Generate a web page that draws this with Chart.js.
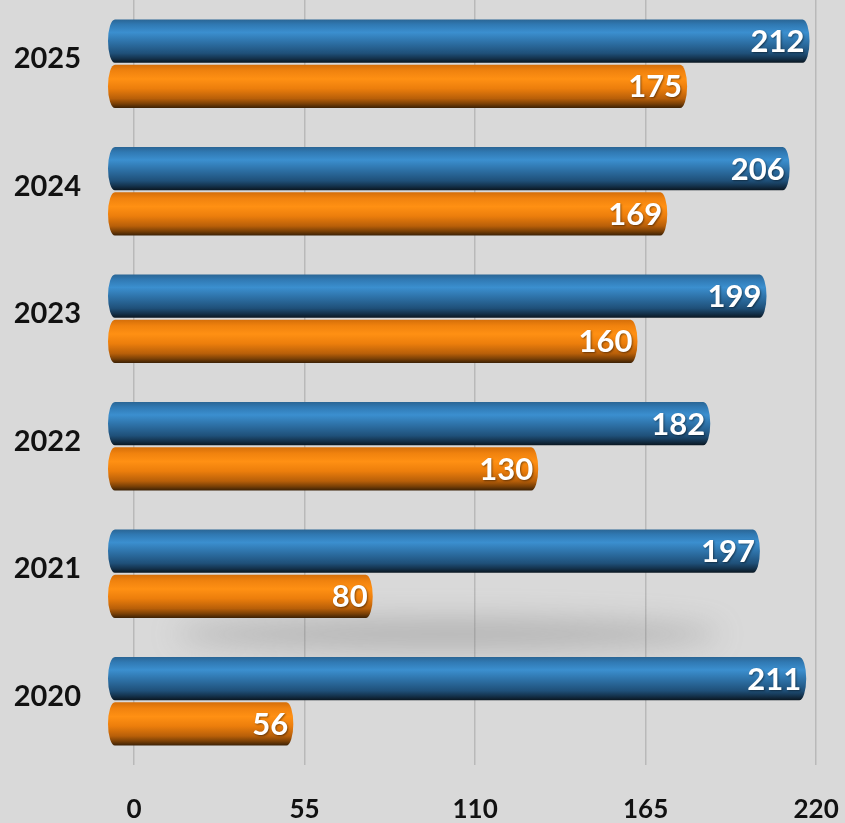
<!DOCTYPE html>
<html>
<head>
<meta charset="utf-8">
<script src="https://cdn.jsdelivr.net/npm/chart.js@4.4.1/dist/chart.umd.min.js"></script>
<style>
  html, body { margin: 0; padding: 0; background: #d9d9d9; }
  #wrap { width: 845px; height: 823px; }
</style>
</head>
<body>
<div id="wrap"><canvas id="barChart" width="845" height="823"></canvas></div>
<script>
var years = ['2025', '2024', '2023', '2022', '2021', '2020'];
var blueValues = [212, 206, 199, 182, 197, 211];
var orangeValues = [175, 169, 160, 130, 80, 56];
var tickValues = [0, 55, 110, 165, 220];

var fontName = "Lato, 'DejaVu Sans', sans-serif";

function cylinderGradient(ctx, top, bottom, stops) {
    var g = ctx.createLinearGradient(0, top, 0, bottom);
    stops.forEach(function (s) { g.addColorStop(s[0], s[1]); });
    return g;
}

var blueStops = [[0, '#2a6594'], [0.12, '#3079b3'], [0.3, '#3b8fcf'], [0.52, '#2e72a8'], [0.78, '#1f5079'], [0.9, '#14324c'], [1, '#0a1620']];
var orangeStops = [[0, '#d46e09'], [0.14, '#f0820e'], [0.33, '#ff9013'], [0.55, '#ec7e0c'], [0.78, '#b85f09'], [0.9, '#7a4006'], [1, '#3a2005']];

// draws the bars as cylinders, positions come from the bar elements
var cylinderPlugin = {
    id: 'cylinders',
    beforeDatasetDraw: function (chart, args) {
        var ctx = chart.ctx;
        var meta = args.meta;
        var stops = args.index === 0 ? blueStops : orangeStops;
        meta.data.forEach(function (el) {
            var p = el.getProps(['x', 'y', 'base', 'height'], true);
            var top = p.y - p.height / 2;
            var bottom = p.y + p.height / 2;
            var r = 7;
            var x0 = p.base;
            var x1 = p.x;
            ctx.save();
            ctx.beginPath();
            ctx.moveTo(x0 + r, top);
            ctx.lineTo(x1 - r, top);
            ctx.ellipse(x1 - r, p.y, r, p.height / 2, 0, -Math.PI / 2, Math.PI / 2);
            ctx.lineTo(x0 + r, bottom);
            ctx.ellipse(x0 + r, p.y, r, p.height / 2, 0, Math.PI / 2, Math.PI * 1.5);
            ctx.closePath();
            ctx.fillStyle = cylinderGradient(ctx, top, bottom, stops);
            ctx.fill();
            ctx.restore();
        });
        return false;
    },
    beforeDatasetsDraw: function (chart) {
        // soft floor shadow under the 2021 group
        var meta = chart.getDatasetMeta(1);
        var el = meta.data[4];
        if (!el) return;
        var ctx = chart.ctx;
        var xs = chart.scales.x;
        ctx.save();
        ctx.filter = 'blur(14px)';
        ctx.fillStyle = 'rgba(115,115,115,0.38)';
        ctx.beginPath();
        ctx.ellipse((xs.getPixelForValue(20) + xs.getPixelForValue(185)) / 2, el.y + el.height / 2 + 16,
            (xs.getPixelForValue(185) - xs.getPixelForValue(20)) / 2, 15, 0, 0, Math.PI * 2);
        ctx.fill();
        ctx.restore();
    },
    afterDatasetsDraw: function (chart) {
        var ctx = chart.ctx;
        ctx.save();
        ctx.font = 'bold 31px ' + fontName;
        ctx.textAlign = 'right';
        ctx.textBaseline = 'middle';
        ctx.fillStyle = '#ffffff';
        ctx.shadowColor = 'rgba(0,0,0,0.45)';
        ctx.shadowBlur = 2;
        ctx.shadowOffsetX = 1;
        ctx.shadowOffsetY = 1;
        chart.data.datasets.forEach(function (ds, di) {
            chart.getDatasetMeta(di).data.forEach(function (el, i) {
                ctx.fillText(String(ds.data[i]), el.x - 5, el.y + 1);
            });
        });
        ctx.restore();
    }
};

var ctx = document.getElementById('barChart').getContext('2d');

new Chart(ctx, {
    type: 'bar',
    data: {
        labels: years,
        datasets: [{
            label: 'Series 1',
            data: blueValues,
            backgroundColor: '#2f78ae',
            xAxisID: 'x',
            categoryPercentage: 0.71,
            barPercentage: 0.96
        }, {
            label: 'Series 2',
            data: orangeValues,
            backgroundColor: '#ff9214',
            xAxisID: 'x',
            categoryPercentage: 0.71,
            barPercentage: 0.96
        }]
    },
    options: {
        indexAxis: 'y',
        responsive: false,
        animation: false,
        layout: { padding: { left: 0, right: 9, top: 0, bottom: 0 } },
        plugins: {
            legend: { display: false },
            tooltip: { enabled: false }
        },
        scales: {
            x: {
                display: false,
                min: 0,
                max: 220
            },
            // axis with the grid and the tick labels (shifted like the 3D floor)
            x2: {
                type: 'linear',
                position: 'bottom',
                min: -8.4,
                max: 226.4,
                afterBuildTicks: function (axis) {
                    axis.ticks = tickValues.map(function (v) { return { value: v }; });
                },
                afterFit: function (axis) {
                    axis.height = 58;
                    axis.paddingLeft = 0;
                    axis.paddingRight = 0;
                },
                grid: { color: '#b9b9b9', lineWidth: 1.5, drawTicks: false },
                border: { display: false },
                ticks: {
                    padding: 29,
                    color: '#111111',
                    font: { family: fontName, size: 26, weight: 'bold' },
                    maxRotation: 0,
                    autoSkip: false
                }
            },
            y: {
                afterFit: function (axis) {
                    axis.width = 108;
                    axis.paddingTop = 0;
                    axis.paddingBottom = 0;
                },
                grid: { display: false },
                border: { display: false },
                ticks: {
                    padding: 19,
                    labelOffset: -5,
                    color: '#111111',
                    font: { family: fontName, size: 29, weight: 'bold' }
                }
            }
        }
    },
    plugins: [cylinderPlugin]
});
</script>
</body>
</html>
